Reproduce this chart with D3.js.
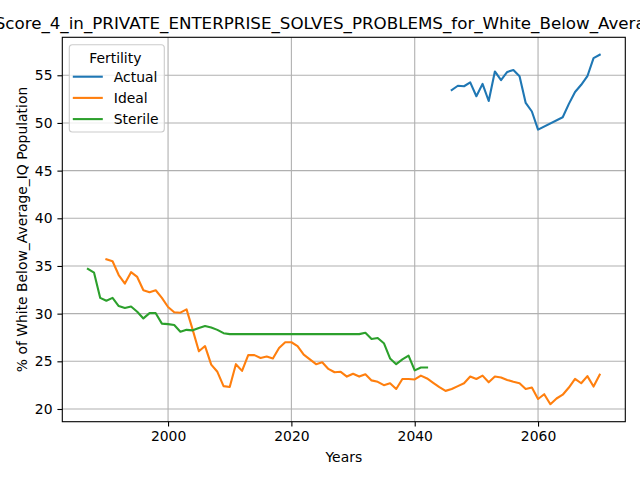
<!DOCTYPE html>
<html>
<head>
<meta charset="utf-8">
<script src="https://cdn.jsdelivr.net/npm/d3@7"></script>
<style>
  body { margin: 0; background: #fff; }
  text { font-family: "DejaVu Sans", sans-serif; fill: #000; }
</style>
</head>
<body>
<div id="chart"></div>
<script>
// data
var actualYears = [2046, 2047, 2048, 2049, 2050, 2051, 2052, 2053, 2054, 2055, 2056, 2057, 2058, 2059, 2060,
  2064, 2065, 2066, 2067, 2068, 2069, 2070];
var actualValues = [53.45, 53.9, 53.85, 54.25, 52.8, 54.1, 52.3, 55.4, 54.5, 55.35, 55.55, 54.9, 52.1, 51.2, 49.3,
  50.6, 52.0, 53.25, 54.0, 54.9, 56.8, 57.15];

var idealYears = d3.range(1990, 2071);
var idealValues = [35.7, 35.5, 34.05, 33.15, 34.35, 33.85, 32.45, 32.25, 32.45, 31.65,
  30.7, 30.15, 30.1, 30.45, 28.3, 26.05, 26.6, 24.65, 23.9, 22.4,
  22.3, 24.7, 24.0, 25.65, 25.65, 25.35, 25.5, 25.3, 26.4, 27.0,
  27.0, 26.6, 25.7, 25.2, 24.7, 24.9, 24.2, 23.85, 23.9, 23.4,
  23.7, 23.4, 23.65, 23.0, 22.85, 22.5, 22.7, 22.1, 23.15, 23.15,
  23.1, 23.5, 23.2, 22.75, 22.3, 21.9, 22.1, 22.4, 22.7, 23.4,
  23.15, 23.5, 22.8, 23.4, 23.3, 23.05, 22.85, 22.7, 22.1, 22.25,
  21.05, 21.55, 20.5, 21.1, 21.5, 22.25, 23.15, 22.7, 23.45, 22.35,
  23.6];

var sterileYears = d3.range(1987, 2043);
var sterileValues = [34.7, 34.3, 31.65, 31.35, 31.65, 30.8, 30.6, 30.75, 30.2, 29.5,
  30.05, 30.05, 28.95, 28.9, 28.8, 28.1, 28.3, 28.25, 28.5, 28.7,
  28.55, 28.3, 27.95, 27.85, 27.85, 27.85, 27.85, 27.85, 27.85, 27.85,
  27.85, 27.85, 27.85, 27.85, 27.85, 27.85, 27.85, 27.85, 27.85, 27.85,
  27.85, 27.85, 27.85, 27.85, 27.85, 28.0, 27.35, 27.45, 26.9, 25.3,
  24.7, 25.2, 25.6, 24.05, 24.35, 24.35];

var seriesNames = ["Actual", "Ideal", "Sterile"];
var seriesColors = ["#1f77b4", "#ff7f0e", "#2ca02c"];
var xTicks = [2000, 2020, 2040, 2060];
var yTicks = [20, 25, 30, 35, 40, 45, 50, 55];

var titleText = "Score_4_in_PRIVATE_ENTERPRISE_SOLVES_PROBLEMS_for_White_Below_Average_IQ";

var margin = {top: 37.3, right: 14.7, bottom: 58.3, left: 62.3},
    width = 640 - margin.left - margin.right,
    height = 480 - margin.top - margin.bottom;

var svg = d3.select("#chart")
  .append("svg")
    .attr("width", 640)
    .attr("height", 480)
  .append("g")
    .attr("transform", "translate(" + margin.left + "," + margin.top + ")");

var series = [
  {name: seriesNames[0], years: actualYears, values: actualValues},
  {name: seriesNames[1], years: idealYears, values: idealValues},
  {name: seriesNames[2], years: sterileYears, values: sterileValues}
];

// matplotlib style 5% padding
function padded(lo, hi) {
  var p = (hi - lo) * 0.05;
  return [lo - p, hi + p];
}
var allYears = actualYears.concat(idealYears, sterileYears);
var allValues = actualValues.concat(idealValues, sterileValues);

var x = d3.scaleLinear()
  .domain(padded(d3.min(allYears), d3.max(allYears)))
  .range([0, width]);

var y = d3.scaleLinear()
  .domain(padded(d3.min(allValues), d3.max(allValues)))
  .range([height, 0]);

// grid
svg.append("g")
  .selectAll("line")
  .data(xTicks)
  .enter()
  .append("line")
    .attr("x1", function(d) { return x(d); })
    .attr("x2", function(d) { return x(d); })
    .attr("y1", 0)
    .attr("y2", height)
    .attr("stroke", "#b0b0b0")
    .attr("stroke-width", 1.1);

svg.append("g")
  .selectAll("line")
  .data(yTicks)
  .enter()
  .append("line")
    .attr("x1", 0)
    .attr("x2", width)
    .attr("y1", function(d) { return y(d); })
    .attr("y2", function(d) { return y(d); })
    .attr("stroke", "#b0b0b0")
    .attr("stroke-width", 1.1);

// lines
var line = d3.line()
  .x(function(d) { return x(d[0]); })
  .y(function(d) { return y(d[1]); });

series.forEach(function(s, i) {
  svg.append("path")
    .datum(d3.zip(s.years, s.values))
    .attr("fill", "none")
    .attr("stroke", seriesColors[i])
    .attr("stroke-width", 2.1)
    .attr("stroke-linejoin", "round")
    .attr("stroke-linecap", "square")
    .attr("d", line);
});

// axes
var xAxis = svg.append("g")
  .attr("transform", "translate(0," + height + ")")
  .call(d3.axisBottom(x).tickValues(xTicks).tickFormat(d3.format("d")).tickSizeOuter(0).tickSize(4.9).tickPadding(4.9));

var yAxis = svg.append("g")
  .call(d3.axisLeft(y).tickValues(yTicks).tickSizeOuter(0).tickSize(4.9).tickPadding(4.9));

[xAxis, yAxis].forEach(function(a) {
  a.select(".domain").remove();
  a.selectAll("line").attr("stroke", "#000").attr("stroke-width", 1.1);
  a.selectAll("text").attr("font-size", "13.9px").attr("font-family", "DejaVu Sans").attr("fill", "#000");
});

// frame
svg.append("rect")
  .attr("x", 0)
  .attr("y", 0)
  .attr("width", width)
  .attr("height", height)
  .attr("fill", "none")
  .attr("stroke", "#000")
  .attr("stroke-width", 1.1);

// labels
svg.append("text")
  .attr("x", width / 2)
  .attr("y", -8.3)
  .attr("font-size", "16.7px")
  .attr("text-anchor", "middle")
  .text(titleText);

svg.append("text")
  .attr("x", width / 2)
  .attr("y", height + 40.5)
  .attr("font-size", "13.9px")
  .attr("text-anchor", "middle")
  .text("Years");

svg.append("text")
  .attr("x", -(height / 2))
  .attr("y", -35.5)
  .attr("font-size", "13.9px")
  .attr("text-anchor", "middle")
  .attr("transform", "rotate(-90)")
  .text("% of White Below_Average_IQ Population");

// legend
var legend = svg.append("g")
  .attr("transform", "translate(7, 7.4)");

legend.append("rect")
  .attr("x", 0)
  .attr("y", 0)
  .attr("width", 95)
  .attr("height", 87.3)
  .attr("rx", 3)
  .attr("fill", "#fff")
  .attr("fill-opacity", 0.8)
  .attr("stroke", "#cccccc")
  .attr("stroke-width", 1.1);

legend.append("text")
  .attr("x", 46)
  .attr("y", 18.5)
  .attr("font-size", "13.9px")
  .attr("text-anchor", "middle")
  .text("Fertility");

var entries = legend.selectAll(".entry")
  .data(seriesNames)
  .enter()
  .append("g")
    .attr("transform", function(d, i) { return "translate(0," + (32 + i * 21.2) + ")"; });

entries.append("line")
  .attr("x1", 3.5)
  .attr("x2", 33.5)
  .attr("y1", 0)
  .attr("y2", 0)
  .attr("stroke", function(d, i) { return seriesColors[i]; })
  .attr("stroke-width", 2.1);

entries.append("text")
  .attr("x", 44.5)
  .attr("y", 5)
  .attr("font-size", "13.9px")
  .text(function(d) { return d; });
</script>
</body>
</html>
